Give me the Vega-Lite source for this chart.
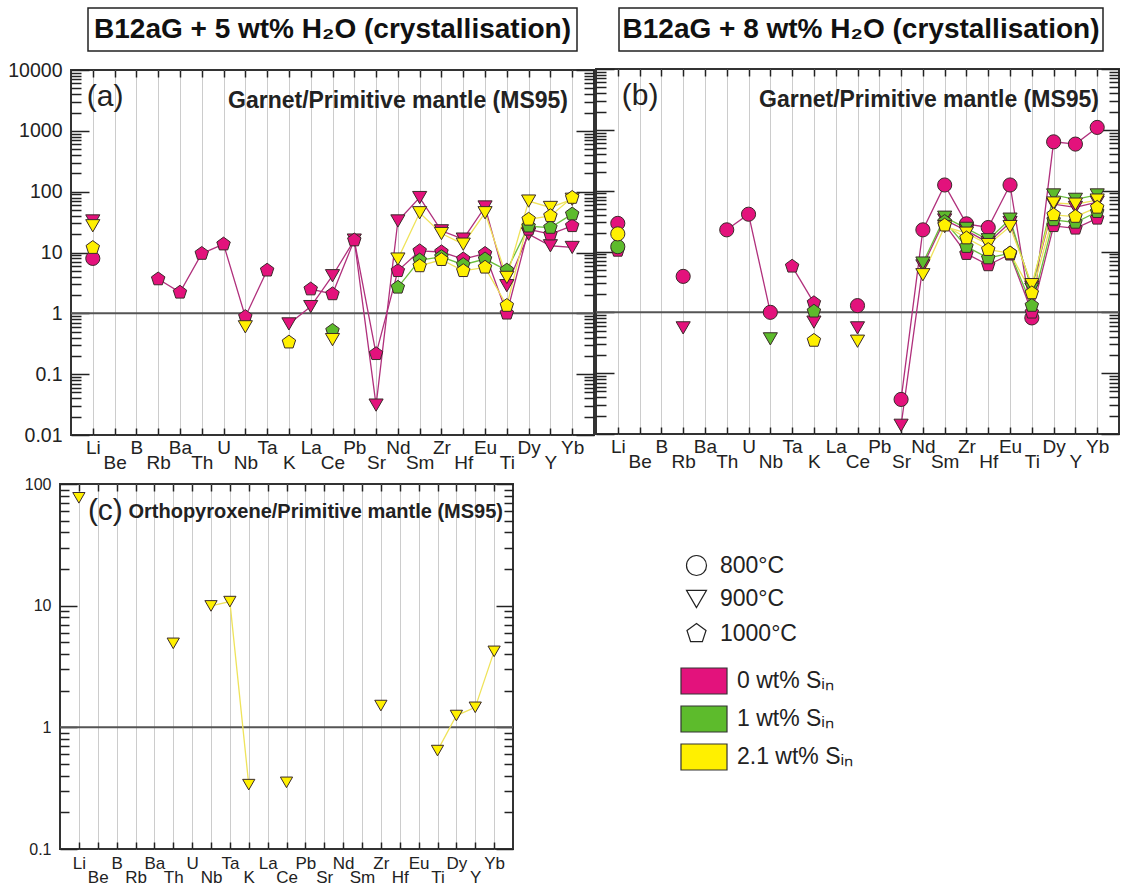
{
 "$schema": "https://vega.github.io/schema/vega-lite/v6.json",
 "padding": {"left": 2, "top": 7, "right": 0, "bottom": 0},
 "background": "white",
 "config": {"view": {"stroke": null}, "font": "Liberation Sans"},
 "datasets": {"pts": [
  {"p":"a","T":"800","S":"0","el":"Li","v":8,"g":1},
  {"p":"a","T":"900","S":"0","el":"Li","v":33,"g":1},
  {"p":"a","T":"900","S":"0","el":"K","v":0.67,"g":2},
  {"p":"a","T":"900","S":"0","el":"La","v":1.29,"g":2},
  {"p":"a","T":"900","S":"0","el":"Ce","v":4.15,"g":2},
  {"p":"a","T":"900","S":"0","el":"Pb","v":16,"g":2},
  {"p":"a","T":"900","S":"0","el":"Sr","v":0.031,"g":2},
  {"p":"a","T":"900","S":"0","el":"Nd","v":33,"g":2},
  {"p":"a","T":"900","S":"0","el":"Sm","v":80,"g":2},
  {"p":"a","T":"900","S":"0","el":"Zr","v":22.7,"g":2},
  {"p":"a","T":"900","S":"0","el":"Hf","v":16.6,"g":2},
  {"p":"a","T":"900","S":"0","el":"Eu","v":56,"g":2},
  {"p":"a","T":"900","S":"0","el":"Ti","v":2.85,"g":2},
  {"p":"a","T":"900","S":"0","el":"Dy","v":20,"g":2},
  {"p":"a","T":"900","S":"0","el":"Y","v":12.9,"g":2},
  {"p":"a","T":"900","S":"0","el":"Yb","v":12.1,"g":2},
  {"p":"a","T":"1000","S":"0","el":"Rb","v":3.66,"g":1},
  {"p":"a","T":"1000","S":"0","el":"Ba","v":2.21,"g":1},
  {"p":"a","T":"1000","S":"0","el":"Th","v":9.6,"g":1},
  {"p":"a","T":"1000","S":"0","el":"U","v":13.7,"g":1},
  {"p":"a","T":"1000","S":"0","el":"Nb","v":0.88,"g":1},
  {"p":"a","T":"1000","S":"0","el":"Ta","v":5.1,"g":1},
  {"p":"a","T":"1000","S":"0","el":"La","v":2.5,"g":2},
  {"p":"a","T":"1000","S":"0","el":"Ce","v":2.08,"g":2},
  {"p":"a","T":"1000","S":"0","el":"Pb","v":16,"g":2},
  {"p":"a","T":"1000","S":"0","el":"Sr","v":0.216,"g":2},
  {"p":"a","T":"1000","S":"0","el":"Nd","v":5.0,"g":2},
  {"p":"a","T":"1000","S":"0","el":"Sm","v":10.6,"g":2},
  {"p":"a","T":"1000","S":"0","el":"Zr","v":10.2,"g":2},
  {"p":"a","T":"1000","S":"0","el":"Hf","v":7.8,"g":2},
  {"p":"a","T":"1000","S":"0","el":"Eu","v":9.6,"g":2},
  {"p":"a","T":"1000","S":"0","el":"Ti","v":1.0,"g":2},
  {"p":"a","T":"1000","S":"0","el":"Dy","v":24,"g":2},
  {"p":"a","T":"1000","S":"0","el":"Y","v":20,"g":2},
  {"p":"a","T":"1000","S":"0","el":"Yb","v":27.4,"g":2},
  {"p":"a","T":"1000","S":"1","el":"Ce","v":0.52,"g":1},
  {"p":"a","T":"1000","S":"1","el":"Nd","v":2.67,"g":2},
  {"p":"a","T":"1000","S":"1","el":"Sm","v":7.5,"g":2},
  {"p":"a","T":"1000","S":"1","el":"Zr","v":8.5,"g":2},
  {"p":"a","T":"1000","S":"1","el":"Hf","v":6.3,"g":2},
  {"p":"a","T":"1000","S":"1","el":"Eu","v":7.8,"g":2},
  {"p":"a","T":"1000","S":"1","el":"Ti","v":5.1,"g":2},
  {"p":"a","T":"1000","S":"1","el":"Dy","v":27,"g":2},
  {"p":"a","T":"1000","S":"1","el":"Y","v":25.7,"g":2},
  {"p":"a","T":"1000","S":"1","el":"Yb","v":42.7,"g":2},
  {"p":"a","T":"900","S":"2.1","el":"Li","v":27.5,"g":1},
  {"p":"a","T":"900","S":"2.1","el":"Nb","v":0.6,"g":2},
  {"p":"a","T":"900","S":"2.1","el":"Ce","v":0.37,"g":3},
  {"p":"a","T":"900","S":"2.1","el":"Nd","v":7.8,"g":4},
  {"p":"a","T":"900","S":"2.1","el":"Sm","v":45,"g":4},
  {"p":"a","T":"900","S":"2.1","el":"Zr","v":20.5,"g":4},
  {"p":"a","T":"900","S":"2.1","el":"Hf","v":13.7,"g":4},
  {"p":"a","T":"900","S":"2.1","el":"Eu","v":45,"g":4},
  {"p":"a","T":"900","S":"2.1","el":"Ti","v":3.9,"g":4},
  {"p":"a","T":"900","S":"2.1","el":"Dy","v":70,"g":4},
  {"p":"a","T":"900","S":"2.1","el":"Y","v":55,"g":4},
  {"p":"a","T":"900","S":"2.1","el":"Yb","v":75,"g":4},
  {"p":"a","T":"1000","S":"2.1","el":"Li","v":12,"g":1},
  {"p":"a","T":"1000","S":"2.1","el":"K","v":0.335,"g":2},
  {"p":"a","T":"1000","S":"2.1","el":"Sm","v":6.0,"g":3},
  {"p":"a","T":"1000","S":"2.1","el":"Zr","v":7.6,"g":3},
  {"p":"a","T":"1000","S":"2.1","el":"Hf","v":5.0,"g":3},
  {"p":"a","T":"1000","S":"2.1","el":"Eu","v":5.7,"g":3},
  {"p":"a","T":"1000","S":"2.1","el":"Ti","v":1.34,"g":3},
  {"p":"a","T":"1000","S":"2.1","el":"Dy","v":35,"g":3},
  {"p":"a","T":"1000","S":"2.1","el":"Y","v":40,"g":3},
  {"p":"a","T":"1000","S":"2.1","el":"Yb","v":80,"g":3},

  {"p":"b","T":"800","S":"0","el":"Li","v":29,"g":1},
  {"p":"b","T":"800","S":"0","el":"Rb","v":3.9,"g":2},
  {"p":"b","T":"800","S":"0","el":"Th","v":22.7,"g":3},
  {"p":"b","T":"800","S":"0","el":"U","v":41,"g":3},
  {"p":"b","T":"800","S":"0","el":"Nb","v":1.0,"g":3},
  {"p":"b","T":"800","S":"0","el":"Ce","v":1.29,"g":4},
  {"p":"b","T":"800","S":"0","el":"Sr","v":0.037,"g":5},
  {"p":"b","T":"800","S":"0","el":"Nd","v":22.7,"g":5},
  {"p":"b","T":"800","S":"0","el":"Sm","v":124,"g":5},
  {"p":"b","T":"800","S":"0","el":"Zr","v":28.5,"g":5},
  {"p":"b","T":"800","S":"0","el":"Hf","v":24.8,"g":5},
  {"p":"b","T":"800","S":"0","el":"Eu","v":124,"g":5},
  {"p":"b","T":"800","S":"0","el":"Ti","v":0.81,"g":5},
  {"p":"b","T":"800","S":"0","el":"Dy","v":635,"g":5},
  {"p":"b","T":"800","S":"0","el":"Y","v":583,"g":5},
  {"p":"b","T":"800","S":"0","el":"Yb","v":1096,"g":5},
  {"p":"b","T":"900","S":"0","el":"Rb","v":0.555,"g":1},
  {"p":"b","T":"900","S":"0","el":"K","v":0.69,"g":2},
  {"p":"b","T":"900","S":"0","el":"Ce","v":0.555,"g":3},
  {"p":"b","T":"900","S":"0","el":"Sr","v":0.0139,"g":4},
  {"p":"b","T":"900","S":"0","el":"Nd","v":5.8,"g":4},
  {"p":"b","T":"900","S":"0","el":"Sm","v":33,"g":4},
  {"p":"b","T":"900","S":"0","el":"Zr","v":22,"g":4},
  {"p":"b","T":"900","S":"0","el":"Hf","v":14,"g":4},
  {"p":"b","T":"900","S":"0","el":"Eu","v":30,"g":4},
  {"p":"b","T":"900","S":"0","el":"Ti","v":2.6,"g":4},
  {"p":"b","T":"900","S":"0","el":"Dy","v":60,"g":4},
  {"p":"b","T":"900","S":"0","el":"Y","v":53,"g":4},
  {"p":"b","T":"900","S":"0","el":"Yb","v":65,"g":4},
  {"p":"b","T":"1000","S":"0","el":"Li","v":10.4,"g":1},
  {"p":"b","T":"1000","S":"0","el":"Ta","v":5.7,"g":2},
  {"p":"b","T":"1000","S":"0","el":"K","v":1.43,"g":2},
  {"p":"b","T":"1000","S":"0","el":"Sm","v":28,"g":3},
  {"p":"b","T":"1000","S":"0","el":"Zr","v":9.2,"g":3},
  {"p":"b","T":"1000","S":"0","el":"Hf","v":6.0,"g":3},
  {"p":"b","T":"1000","S":"0","el":"Eu","v":9.0,"g":3},
  {"p":"b","T":"1000","S":"0","el":"Ti","v":1.0,"g":3},
  {"p":"b","T":"1000","S":"0","el":"Dy","v":26.4,"g":3},
  {"p":"b","T":"1000","S":"0","el":"Y","v":24,"g":3},
  {"p":"b","T":"1000","S":"0","el":"Yb","v":35,"g":3},
  {"p":"b","T":"800","S":"1","el":"Li","v":12,"g":1},
  {"p":"b","T":"900","S":"1","el":"Nb","v":0.366,"g":1},
  {"p":"b","T":"900","S":"1","el":"Nd","v":6.45,"g":2},
  {"p":"b","T":"900","S":"1","el":"Sm","v":36.6,"g":2},
  {"p":"b","T":"900","S":"1","el":"Zr","v":24,"g":2},
  {"p":"b","T":"900","S":"1","el":"Hf","v":15.6,"g":2},
  {"p":"b","T":"900","S":"1","el":"Eu","v":34,"g":2},
  {"p":"b","T":"900","S":"1","el":"Ti","v":2.4,"g":2},
  {"p":"b","T":"900","S":"1","el":"Dy","v":85,"g":2},
  {"p":"b","T":"900","S":"1","el":"Y","v":72,"g":2},
  {"p":"b","T":"900","S":"1","el":"Yb","v":85,"g":2},
  {"p":"b","T":"1000","S":"1","el":"K","v":1.04,"g":1},
  {"p":"b","T":"1000","S":"1","el":"Sm","v":31,"g":2},
  {"p":"b","T":"1000","S":"1","el":"Zr","v":12,"g":2},
  {"p":"b","T":"1000","S":"1","el":"Hf","v":7.8,"g":2},
  {"p":"b","T":"1000","S":"1","el":"Eu","v":9.4,"g":2},
  {"p":"b","T":"1000","S":"1","el":"Ti","v":1.29,"g":2},
  {"p":"b","T":"1000","S":"1","el":"Dy","v":33,"g":2},
  {"p":"b","T":"1000","S":"1","el":"Y","v":30,"g":2},
  {"p":"b","T":"1000","S":"1","el":"Yb","v":45,"g":2},
  {"p":"b","T":"800","S":"2.1","el":"Li","v":19.5,"g":1},
  {"p":"b","T":"900","S":"2.1","el":"Ce","v":0.335,"g":1},
  {"p":"b","T":"900","S":"2.1","el":"Nd","v":4.15,"g":2},
  {"p":"b","T":"900","S":"2.1","el":"Sm","v":25.7,"g":2},
  {"p":"b","T":"900","S":"2.1","el":"Zr","v":20,"g":2},
  {"p":"b","T":"900","S":"2.1","el":"Hf","v":13,"g":2},
  {"p":"b","T":"900","S":"2.1","el":"Eu","v":25.7,"g":2},
  {"p":"b","T":"900","S":"2.1","el":"Ti","v":2.85,"g":2},
  {"p":"b","T":"900","S":"2.1","el":"Dy","v":62.7,"g":2},
  {"p":"b","T":"900","S":"2.1","el":"Y","v":60,"g":2},
  {"p":"b","T":"900","S":"2.1","el":"Yb","v":70,"g":2},
  {"p":"b","T":"1000","S":"2.1","el":"K","v":0.344,"g":1},
  {"p":"b","T":"1000","S":"2.1","el":"Sm","v":27,"g":2},
  {"p":"b","T":"1000","S":"2.1","el":"Zr","v":16.6,"g":2},
  {"p":"b","T":"1000","S":"2.1","el":"Hf","v":10.7,"g":2},
  {"p":"b","T":"1000","S":"2.1","el":"Eu","v":9.4,"g":2},
  {"p":"b","T":"1000","S":"2.1","el":"Ti","v":2.08,"g":2},
  {"p":"b","T":"1000","S":"2.1","el":"Dy","v":40,"g":2},
  {"p":"b","T":"1000","S":"2.1","el":"Y","v":37.5,"g":2},
  {"p":"b","T":"1000","S":"2.1","el":"Yb","v":53,"g":2},

  {"p":"c","T":"900","S":"2.1","el":"Li","v":77,"g":1},
  {"p":"c","T":"900","S":"2.1","el":"Th","v":4.9,"g":2},
  {"p":"c","T":"900","S":"2.1","el":"Nb","v":9.95,"g":3},
  {"p":"c","T":"900","S":"2.1","el":"Ta","v":10.8,"g":3},
  {"p":"c","T":"900","S":"2.1","el":"K","v":0.338,"g":3},
  {"p":"c","T":"900","S":"2.1","el":"Ce","v":0.353,"g":4},
  {"p":"c","T":"900","S":"2.1","el":"Zr","v":1.51,"g":5},
  {"p":"c","T":"900","S":"2.1","el":"Ti","v":0.644,"g":6},
  {"p":"c","T":"900","S":"2.1","el":"Dy","v":1.25,"g":6},
  {"p":"c","T":"900","S":"2.1","el":"Y","v":1.46,"g":6},
  {"p":"c","T":"900","S":"2.1","el":"Yb","v":4.21,"g":6}
 ]},
 "spacing": 2,
 "vconcat": [
  {"hconcat": [
    {"width": 8, "height": 10, "data": {"values": [{}]}, "mark": {"type": "point", "opacity": 0, "size": 0}},
    {"vconcat": [
      {"width": 489, "height": 43, "view": {"stroke": "#222", "strokeWidth": 1.5},
       "data": {"values": [{"t": "B12aG + 5 wt% H₂O (crystallisation)"}]},
       "mark": {"type": "text", "fontWeight": "bold", "fontSize": 28, "color": "#111"},
       "encoding": {"text": {"field": "t", "type": "nominal"}}},
      {"width": 523, "height": 365, "view": {"stroke": "#333", "strokeWidth": 2},
       "title": {"text": "Garnet/Primitive mantle (MS95)", "anchor": "end", "frame": "group", "offset": -53, "dx": -26, "fontSize": 23, "fontWeight": "bold", "color": "#222"},
       "data": {"name": "pts"},
       "transform": [{"filter": "datum.p == 'a'"}],
       "resolve": {"axis": {"x": "independent", "y": "independent"}},
       "layer": [
        {"data": {"values": [{"ref": 1}]}, "mark": {"type": "rule", "color": "#555", "strokeWidth": 2},
         "encoding": {"y": {"field": "ref", "type": "quantitative", "scale": {"type": "log", "domain": [0.01, 10000], "nice": false}, "axis": null}}},
        {"mark": {"type": "line", "strokeWidth": 1.3},
         "encoding": {
          "x": {"field": "el", "type": "nominal", "scale": {"type": "point", "domain": ["Li","Be","B","Rb","Ba","Th","U","Nb","Ta","K","La","Ce","Pb","Sr","Nd","Sm","Zr","Hf","Eu","Ti","Dy","Y","Yb"], "padding": 1},
                "axis": {"orient": "top", "title": null, "domain": false, "labels": false, "tickSize": -7, "tickColor": "#222", "tickWidth": 1.5, "grid": false}},
          "y": {"field": "v", "type": "quantitative", "scale": {"type": "log", "domain": [0.01, 10000], "nice": false},
                "axis": {"orient": "right", "title": null, "domain": false, "grid": false, "labels": false,
                         "values": [0.01,0.02,0.03,0.04,0.05,0.06,0.07,0.08,0.09,0.1,0.2,0.3,0.4,0.5,0.6,0.7,0.8,0.9,1,2,3,4,5,6,7,8,9,10,20,30,40,50,60,70,80,90,100,200,300,400,500,600,700,800,900,1000,2000,3000,4000,5000,6000,7000,8000,9000,10000],
                         "tickSize": {"condition": {"test": "indexof([0.01,0.1,1,10,100,1000,10000], datum.value) >= 0", "value": -18}, "value": -10},
                         "tickColor": "#222", "tickWidth": 1.5}},
          "stroke": {"field": "S", "type": "nominal", "scale": {"domain": ["2.1","1","0"], "range": ["#efe35a","#6cbf3e","#b0307c"]}, "legend": null},
          "detail": [{"field": "T", "type": "nominal"}, {"field": "g", "type": "nominal"}],
          "order": {"value": null}}},
        {"mark": {"type": "point", "filled": true, "opacity": 1, "size": 200, "stroke": "#3a2a2a", "strokeWidth": 1},
         "encoding": {
          "x": {"field": "el", "type": "nominal", "scale": {"type": "point", "domain": ["Li","Be","B","Rb","Ba","Th","U","Nb","Ta","K","La","Ce","Pb","Sr","Nd","Sm","Zr","Hf","Eu","Ti","Dy","Y","Yb"], "padding": 1},
                "axis": {"orient": "bottom", "title": null, "domain": false, "tickSize": -7, "tickColor": "#222", "tickWidth": 1.5, "grid": true, "gridColor": "#cccccc", "gridWidth": 1, "labelAngle": 0, "labelFontSize": 19, "labelColor": "#222", "labelBaseline": "top",
                         "labelPadding": {"condition": {"test": "indexof(['Be','Rb','Th','Nb','K','Ce','Sr','Sm','Hf','Ti','Y'], datum.value) >= 0", "value": 25}, "value": 10},
                         "labelOverlap": false, "labelBound": false, "labelFlush": false}},
          "y": {"field": "v", "type": "quantitative", "scale": {"type": "log", "domain": [0.01, 10000], "nice": false},
                "axis": {"orient": "left", "title": null, "domain": false, "grid": false,
                         "values": [0.01,0.02,0.03,0.04,0.05,0.06,0.07,0.08,0.09,0.1,0.2,0.3,0.4,0.5,0.6,0.7,0.8,0.9,1,2,3,4,5,6,7,8,9,10,20,30,40,50,60,70,80,90,100,200,300,400,500,600,700,800,900,1000,2000,3000,4000,5000,6000,7000,8000,9000,10000],
                         "tickSize": {"condition": {"test": "indexof([0.01,0.1,1,10,100,1000,10000], datum.value) >= 0", "value": -18}, "value": -10},
                         "tickColor": "#222", "tickWidth": 1.5,
                         "labelExpr": "indexof([0.01,0.1,1,10,100,1000,10000], datum.value) >= 0 ? format(datum.value, '~g') : ''",
                         "labelFontSize": 19.5, "labelColor": "#222", "labelPadding": 27, "labelOverlap": false, "labelBound": false, "labelFlush": false}},
          "fill": {"field": "S", "type": "nominal", "scale": {"domain": ["0","1","2.1"], "range": ["#e3127c","#5dbb2c","#fff000"]},
                   "legend": {"orient": "none", "legendX": 688, "legendY": 659, "title": null, "symbolType": "M-1.77,-1H1.77V1H-1.77Z", "symbolSize": 676, "symbolStrokeColor": "#333", "symbolStrokeWidth": 1.2, "labelFontSize": 23, "labelColor": "#222", "labelExpr": "datum.label + ' wt% Sᵢₙ'", "rowPadding": 6, "labelOffset": 19}},
          "shape": {"field": "T", "type": "nominal", "scale": {"domain": ["800","900","1000"], "range": ["circle","triangle-down","M0,-1L0.951,-0.309L0.588,0.809L-0.588,0.809L-0.951,-0.309Z"]},
                    "legend": {"orient": "none", "legendX": 683, "legendY": 546, "title": null, "symbolSize": 400, "symbolFillColor": "#ffffff", "symbolStrokeColor": "#222", "symbolStrokeWidth": 1.2, "labelFontSize": 23, "labelColor": "#222", "labelExpr": "datum.label + '°C'", "rowPadding": 9.5, "labelOffset": 12}}}},
        {"data": {"values": [{"lab": "(a)"}]}, "mark": {"type": "text", "fontSize": 30, "align": "left", "baseline": "middle", "dx": -6, "color": "#222"},
         "encoding": {
          "x": {"datum": "Li", "type": "nominal", "scale": {"type": "point", "domain": ["Li","Be","B","Rb","Ba","Th","U","Nb","Ta","K","La","Ce","Pb","Sr","Nd","Sm","Zr","Hf","Eu","Ti","Dy","Y","Yb"], "padding": 1}, "axis": null},
          "y": {"datum": 3600, "type": "quantitative", "scale": {"type": "log", "domain": [0.01, 10000], "nice": false}, "axis": null},
          "text": {"field": "lab", "type": "nominal"}}}
       ]}
    ], "spacing": 19, "center": true, "bounds": "flush"},
    {"vconcat": [
      {"hconcat": [
        {"width": 22, "height": 10, "data": {"values": [{}]}, "mark": {"type": "point", "opacity": 0, "size": 0}},
        {"width": 484, "height": 43, "view": {"stroke": "#222", "strokeWidth": 1.5},
         "data": {"values": [{"t": "B12aG + 8 wt% H₂O (crystallisation)"}]},
         "mark": {"type": "text", "fontWeight": "bold", "fontSize": 28, "color": "#111"},
         "encoding": {"text": {"field": "t", "type": "nominal"}}}
      ], "spacing": 0},
      {"width": 523, "height": 365, "view": {"stroke": "#333", "strokeWidth": 2},
       "title": {"text": "Garnet/Primitive mantle (MS95)", "anchor": "end", "frame": "group", "offset": -44, "dx": -20, "fontSize": 23, "fontWeight": "bold", "color": "#222"},
       "data": {"name": "pts"},
       "transform": [{"filter": "datum.p == 'b'"}],
       "resolve": {"axis": {"x": "independent", "y": "independent"}},
       "layer": [
        {"data": {"values": [{"ref": 1}]}, "mark": {"type": "rule", "color": "#555", "strokeWidth": 2},
         "encoding": {"y": {"field": "ref", "type": "quantitative", "scale": {"type": "log", "domain": [0.01, 10000], "nice": false}, "axis": null}}},
        {"mark": {"type": "line", "strokeWidth": 1.3},
         "encoding": {
          "x": {"field": "el", "type": "nominal", "scale": {"type": "point", "domain": ["Li","Be","B","Rb","Ba","Th","U","Nb","Ta","K","La","Ce","Pb","Sr","Nd","Sm","Zr","Hf","Eu","Ti","Dy","Y","Yb"], "padding": 1},
                "axis": {"orient": "top", "title": null, "domain": false, "labels": false, "tickSize": -7, "tickColor": "#222", "tickWidth": 1.5, "grid": false}},
          "y": {"field": "v", "type": "quantitative", "scale": {"type": "log", "domain": [0.01, 10000], "nice": false},
                "axis": {"orient": "right", "title": null, "domain": false, "grid": false, "labels": false,
                         "values": [0.01,0.02,0.03,0.04,0.05,0.06,0.07,0.08,0.09,0.1,0.2,0.3,0.4,0.5,0.6,0.7,0.8,0.9,1,2,3,4,5,6,7,8,9,10,20,30,40,50,60,70,80,90,100,200,300,400,500,600,700,800,900,1000,2000,3000,4000,5000,6000,7000,8000,9000,10000],
                         "tickSize": {"condition": {"test": "indexof([0.01,0.1,1,10,100,1000,10000], datum.value) >= 0", "value": -18}, "value": -10},
                         "tickColor": "#222", "tickWidth": 1.5}},
          "stroke": {"field": "S", "type": "nominal", "scale": {"domain": ["2.1","1","0"], "range": ["#efe35a","#6cbf3e","#b0307c"]}, "legend": null},
          "detail": [{"field": "T", "type": "nominal"}, {"field": "g", "type": "nominal"}],
          "order": {"value": null}}},
        {"mark": {"type": "point", "filled": true, "opacity": 1, "size": 200, "stroke": "#3a2a2a", "strokeWidth": 1},
         "encoding": {
          "x": {"field": "el", "type": "nominal", "scale": {"type": "point", "domain": ["Li","Be","B","Rb","Ba","Th","U","Nb","Ta","K","La","Ce","Pb","Sr","Nd","Sm","Zr","Hf","Eu","Ti","Dy","Y","Yb"], "padding": 1},
                "axis": {"orient": "bottom", "title": null, "domain": false, "tickSize": -7, "tickColor": "#222", "tickWidth": 1.5, "grid": true, "gridColor": "#cccccc", "gridWidth": 1, "labelAngle": 0, "labelFontSize": 19, "labelColor": "#222", "labelBaseline": "top",
                         "labelPadding": {"condition": {"test": "indexof(['Be','Rb','Th','Nb','K','Ce','Sr','Sm','Hf','Ti','Y'], datum.value) >= 0", "value": 25}, "value": 10},
                         "labelOverlap": false, "labelBound": false, "labelFlush": false}},
          "y": {"field": "v", "type": "quantitative", "scale": {"type": "log", "domain": [0.01, 10000], "nice": false},
                "axis": {"orient": "left", "title": null, "domain": false, "grid": false, "labels": false,
                         "values": [0.01,0.02,0.03,0.04,0.05,0.06,0.07,0.08,0.09,0.1,0.2,0.3,0.4,0.5,0.6,0.7,0.8,0.9,1,2,3,4,5,6,7,8,9,10,20,30,40,50,60,70,80,90,100,200,300,400,500,600,700,800,900,1000,2000,3000,4000,5000,6000,7000,8000,9000,10000],
                         "tickSize": {"condition": {"test": "indexof([0.01,0.1,1,10,100,1000,10000], datum.value) >= 0", "value": -18}, "value": -10},
                         "tickColor": "#222", "tickWidth": 1.5}},
          "fill": {"field": "S", "type": "nominal", "scale": {"domain": ["0","1","2.1"], "range": ["#e3127c","#5dbb2c","#fff000"]},
                   "legend": {"orient": "none", "legendX": 688, "legendY": 659, "title": null, "symbolType": "M-1.77,-1H1.77V1H-1.77Z", "symbolSize": 676, "symbolStrokeColor": "#333", "symbolStrokeWidth": 1.2, "labelFontSize": 23, "labelColor": "#222", "labelExpr": "datum.label + ' wt% Sᵢₙ'", "rowPadding": 6, "labelOffset": 19}},
          "shape": {"field": "T", "type": "nominal", "scale": {"domain": ["800","900","1000"], "range": ["circle","triangle-down","M0,-1L0.951,-0.309L0.588,0.809L-0.588,0.809L-0.951,-0.309Z"]},
                    "legend": {"orient": "none", "legendX": 683, "legendY": 546, "title": null, "symbolSize": 400, "symbolFillColor": "#ffffff", "symbolStrokeColor": "#222", "symbolStrokeWidth": 1.2, "labelFontSize": 23, "labelColor": "#222", "labelExpr": "datum.label + '°C'", "rowPadding": 9.5, "labelOffset": 12}}}},
        {"data": {"values": [{"lab": "(b)"}]}, "mark": {"type": "text", "fontSize": 30, "align": "left", "baseline": "middle", "dx": 4, "color": "#222"},
         "encoding": {
          "x": {"datum": "Li", "type": "nominal", "scale": {"type": "point", "domain": ["Li","Be","B","Rb","Ba","Th","U","Nb","Ta","K","La","Ce","Pb","Sr","Nd","Sm","Zr","Hf","Eu","Ti","Dy","Y","Yb"], "padding": 1}, "axis": null},
          "y": {"datum": 3600, "type": "quantitative", "scale": {"type": "log", "domain": [0.01, 10000], "nice": false}, "axis": null},
          "text": {"field": "lab", "type": "nominal"}}}
       ]}
    ], "spacing": 15}
  ], "spacing": -4},
  {"hconcat": [
    {"width": 21, "height": 10, "data": {"values": [{}]}, "mark": {"type": "point", "opacity": 0, "size": 0}},
    {"width": 453, "height": 365, "view": {"stroke": "#333", "strokeWidth": 2},
     "title": {"text": "Orthopyroxene/Primitive mantle (MS95)", "anchor": "end", "frame": "group", "offset": -46, "dx": -10, "fontSize": 20, "fontWeight": "bold", "color": "#222"},
     "data": {"name": "pts"},
     "transform": [{"filter": "datum.p == 'c'"}],
     "resolve": {"axis": {"x": "independent", "y": "independent"}},
     "layer": [
      {"data": {"values": [{"ref": 1}]}, "mark": {"type": "rule", "color": "#555", "strokeWidth": 2},
       "encoding": {"y": {"field": "ref", "type": "quantitative", "scale": {"type": "log", "domain": [0.1, 100], "nice": false}, "axis": null}}},
      {"mark": {"type": "line", "strokeWidth": 1.3},
       "encoding": {
        "x": {"field": "el", "type": "nominal", "scale": {"type": "point", "domain": ["Li","Be","B","Rb","Ba","Th","U","Nb","Ta","K","La","Ce","Pb","Sr","Nd","Sm","Zr","Hf","Eu","Ti","Dy","Y","Yb"], "padding": 1},
              "axis": {"orient": "top", "title": null, "domain": false, "labels": false, "tickSize": -7, "tickColor": "#222", "tickWidth": 1.5, "grid": false}},
        "y": {"field": "v", "type": "quantitative", "scale": {"type": "log", "domain": [0.1, 100], "nice": false},
              "axis": {"orient": "right", "title": null, "domain": false, "grid": false, "labels": false,
                       "values": [0.1,0.2,0.3,0.4,0.5,0.6,0.7,0.8,0.9,1,2,3,4,5,6,7,8,9,10,20,30,40,50,60,70,80,90,100],
                       "tickSize": {"condition": {"test": "indexof([0.1,1,10,100], datum.value) >= 0", "value": -17}, "value": -9},
                       "tickColor": "#222", "tickWidth": 1.5}},
        "stroke": {"field": "S", "type": "nominal", "scale": {"domain": ["2.1","1","0"], "range": ["#efe35a","#6cbf3e","#b0307c"]}, "legend": null},
        "detail": [{"field": "T", "type": "nominal"}, {"field": "g", "type": "nominal"}],
        "order": {"value": null}}},
      {"mark": {"type": "point", "filled": true, "opacity": 1, "size": 150, "stroke": "#3a2a2a", "strokeWidth": 1},
       "encoding": {
        "x": {"field": "el", "type": "nominal", "scale": {"type": "point", "domain": ["Li","Be","B","Rb","Ba","Th","U","Nb","Ta","K","La","Ce","Pb","Sr","Nd","Sm","Zr","Hf","Eu","Ti","Dy","Y","Yb"], "padding": 1},
              "axis": {"orient": "bottom", "title": null, "domain": false, "tickSize": -7, "tickColor": "#222", "tickWidth": 1.5, "grid": true, "gridColor": "#cccccc", "gridWidth": 1, "labelAngle": 0, "labelFontSize": 17, "labelColor": "#222", "labelBaseline": "top",
                       "labelPadding": {"condition": {"test": "indexof(['Be','Rb','Th','Nb','K','Ce','Sr','Sm','Hf','Ti','Y'], datum.value) >= 0", "value": 27}, "value": 13},
                       "labelOverlap": false, "labelBound": false, "labelFlush": false}},
        "y": {"field": "v", "type": "quantitative", "scale": {"type": "log", "domain": [0.1, 100], "nice": false},
              "axis": {"orient": "left", "title": null, "domain": false, "grid": false,
                       "values": [0.1,0.2,0.3,0.4,0.5,0.6,0.7,0.8,0.9,1,2,3,4,5,6,7,8,9,10,20,30,40,50,60,70,80,90,100],
                       "tickSize": {"condition": {"test": "indexof([0.1,1,10,100], datum.value) >= 0", "value": -17}, "value": -9},
                       "tickColor": "#222", "tickWidth": 1.5,
                       "labelExpr": "indexof([0.1,1,10,100], datum.value) >= 0 ? format(datum.value, '~g') : ''",
                       "labelFontSize": 16, "labelColor": "#222", "labelPadding": 26, "labelOverlap": false, "labelBound": false, "labelFlush": false}},
        "fill": {"field": "S", "type": "nominal", "scale": {"domain": ["0","1","2.1"], "range": ["#e3127c","#5dbb2c","#fff000"]},
                 "legend": {"orient": "none", "legendX": 688, "legendY": 659, "title": null, "symbolType": "M-1.77,-1H1.77V1H-1.77Z", "symbolSize": 676, "symbolStrokeColor": "#333", "symbolStrokeWidth": 1.2, "labelFontSize": 23, "labelColor": "#222", "labelExpr": "datum.label + ' wt% Sᵢₙ'", "rowPadding": 6, "labelOffset": 19}},
        "shape": {"field": "T", "type": "nominal", "scale": {"domain": ["800","900","1000"], "range": ["circle","triangle-down","M0,-1L0.951,-0.309L0.588,0.809L-0.588,0.809L-0.951,-0.309Z"]},
                  "legend": {"orient": "none", "legendX": 683, "legendY": 546, "title": null, "symbolSize": 400, "symbolFillColor": "#ffffff", "symbolStrokeColor": "#222", "symbolStrokeWidth": 1.2, "labelFontSize": 23, "labelColor": "#222", "labelExpr": "datum.label + '°C'", "rowPadding": 9.5, "labelOffset": 12}}}},
      {"data": {"values": [{"lab": "(c)"}]}, "mark": {"type": "text", "fontSize": 30, "align": "left", "baseline": "middle", "dx": 9, "color": "#222"},
       "encoding": {
        "x": {"datum": "Li", "type": "nominal", "scale": {"type": "point", "domain": ["Li","Be","B","Rb","Ba","Th","U","Nb","Ta","K","La","Ce","Pb","Sr","Nd","Sm","Zr","Hf","Eu","Ti","Dy","Y","Yb"], "padding": 1}, "axis": null},
        "y": {"datum": 60, "type": "quantitative", "scale": {"type": "log", "domain": [0.1, 100], "nice": false}, "axis": null},
        "text": {"field": "lab", "type": "nominal"}}}
     ]}
  ], "spacing": 0}
 ]
}
